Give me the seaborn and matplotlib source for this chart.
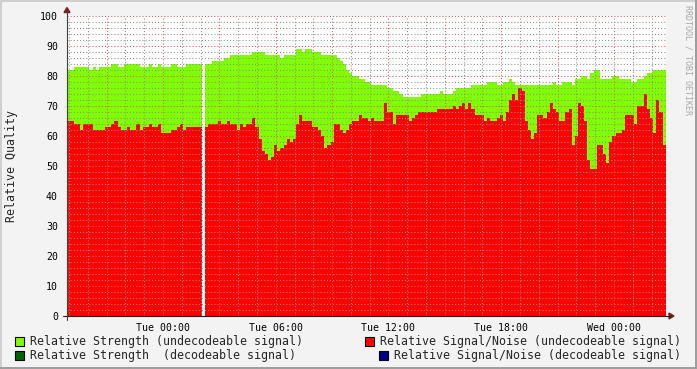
import numpy as np
import pandas as pd
import matplotlib
matplotlib.use("Agg")
import matplotlib.pyplot as plt
import seaborn as sns
from matplotlib.patches import Rectangle, Polygon
from matplotlib.lines import Line2D
from matplotlib.ticker import MultipleLocator, FuncFormatter

# ---------------- data ----------------
# samples every 10 minutes, first sample starts Mon 18:45 (hours relative to Tue 00:00)
start_hours = -5.25
step_hours = 1 / 6
nan = np.nan

strength = [
    82, 82, 82, 83, 83, 83, 83, 83, 82, 83,
    82, 83, 83, 83, 83, 84, 84, 83, 83, 84,
    84, 84, 84, 84, 83, 83, 83, 84, 83, 83,
    84, 83, 83, 83, 84, 84, 83, 83, 83, 84,
    84, 84, 84, 84, nan, 84, 84, 85, 85, 85,
    85, 86, 86, 87, 87, 87, 87, 87, 87, 87,
    88, 88, 88, 88, 87, 87, 87, 87, 87, 86,
    87, 87, 87, 87, 89, 89, 88, 89, 89, 88,
    88, 88, 87, 87, 87, 87, 87, 86, 85, 84,
    82, 81, 80, 80, 79, 79, 78, 78, 77, 77,
    77, 77, 77, 76, 76, 75, 75, 74, 73, 73,
    73, 73, 73, 73, 74, 74, 74, 74, 74, 74,
    75, 74, 74, 74, 75, 76, 76, 76, 76, 76,
    77, 77, 77, 77, 77, 78, 78, 78, 77, 77,
    78, 78, 79, 78, 77, 77, 77, 77, 77, 77,
    77, 77, 77, 77, 77, 77, 78, 77, 77, 78,
    78, 78, 77, 79, 79, 80, 80, 79, 81, 82,
    82, 79, 79, 79, 79, 80, 80, 79, 79, 79,
    79, 78, 78, 79, 79, 80, 81, 81, 82, 82,
    82, 82,
]

snr = [
    65, 65, 65, 64, 64, 62, 64, 64, 64, 62,
    62, 62, 62, 63, 63, 64, 65, 63, 62, 62,
    63, 62, 62, 64, 62, 63, 63, 64, 63, 63,
    64, 61, 61, 61, 62, 62, 63, 64, 62, 63,
    63, 63, 63, 63, nan, 63, 64, 64, 64, 65,
    64, 64, 65, 64, 64, 62, 64, 63, 64, 64,
    66, 63, 59, 55, 54, 52, 53, 57, 55, 56,
    57, 59, 58, 59, 64, 67, 65, 65, 65, 63,
    63, 62, 60, 56, 57, 58, 64, 64, 62, 61,
    62, 64, 65, 65, 67, 66, 66, 65, 66, 65,
    65, 65, 71, 68, 68, 64, 67, 67, 67, 67,
    65, 66, 67, 68, 68, 68, 68, 68, 68, 69,
    69, 69, 69, 69, 70, 69, 70, 71, 69, 71,
    69, 67, 67, 67, 65, 66, 65, 65, 66, 67,
    65, 68, 72, 74, 72, 76, 75, 65, 62, 59,
    61, 67, 67, 66, 68, 71, 69, 68, 65, 65,
    68, 69, 57, 60, 71, 70, 65, 52, 49, 49,
    57, 57, 54, 51, 58, 60, 61, 61, 62, 67,
    67, 67, 64, 70, 70, 74, 69, 66, 61, 72,
    68, 57,
]

series_labels = [
    "Relative Strength (undecodeable signal)",
    "Relative Signal/Noise (undecodeable signal)",
    "Relative Strength  (decodeable signal)",
    "Relative Signal/Noise (decodeable signal)",
]
series_colors = ["#80FF00", "#FF0000", "#006400", "#00008B"]
y_label = "Relative Quality"
watermark = "RRDTOOL / TOBI OETIKER"
day_names = {-1: "Mon", 0: "Tue", 1: "Wed"}

# ---------------- figure ----------------
W, H = 697, 369
sns.set_style("white")
plt.rcParams["font.family"] = ["DejaVu Sans Mono"]

fig = plt.figure(figsize=(W / 100, H / 100), dpi=100, facecolor="#F3F3F3")


def fx(px):
    return px / W


def fy(py):
    return 1 - py / H


left, right, top, bottom = 67, 666, 16, 316
ax = fig.add_axes([fx(left), fy(bottom), (right - left) / W, (bottom - top) / H])
ax.set_facecolor("white")

n = len(snr)
df = pd.DataFrame({
    "hours": start_hours + step_hours * (np.arange(n) + 0.5),
    "strength": strength,
    "snr": snr,
})
edges = [float(e) for e in start_hours + step_hours * np.arange(n + 1)]

d1 = df.dropna(subset=["strength"])
d2 = df.dropna(subset=["snr"])
sns.histplot(data=d1, x="hours", weights="strength", bins=edges, element="step",
             fill=True, color=series_colors[0], alpha=1, linewidth=0, ax=ax)
sns.histplot(data=d2, x="hours", weights="snr", bins=edges, element="step",
             fill=True, color=series_colors[1], alpha=1, linewidth=0, ax=ax)

ax.set_xlim((left - 163) / 18.79, (right - 163) / 18.79)
ax.set_ylim(0, 100)
ax.set_xlabel("")
ax.set_ylabel("")

ax.xaxis.set_major_locator(MultipleLocator(3))
ax.xaxis.set_minor_locator(MultipleLocator(1))
ax.yaxis.set_major_locator(MultipleLocator(10))
ax.yaxis.set_minor_locator(MultipleLocator(2))


def xfmt(h, pos):
    hi = int(round(h))
    if hi % 6 != 0:
        return ""
    day = hi // 24
    return f"{day_names.get(day, '')} {hi % 24:02d}:00"


ax.xaxis.set_major_formatter(FuncFormatter(xfmt))
ax.yaxis.set_major_formatter(FuncFormatter(lambda v, p: f"{int(v)}"))

for s in ax.spines.values():
    s.set_visible(False)

ax.set_axisbelow(False)
ax.grid(which="major", color=(0.87, 0.37, 0.37, 0.5), linestyle=(0, (1, 2)), linewidth=0.75)
ax.grid(which="minor", color=(0.56, 0.56, 0.56, 0.32), linestyle=(0, (1, 2)), linewidth=0.75)

ax.tick_params(axis="both", which="major", length=2.5, width=0.7, color="#DE5F5F",
               labelsize=7.1, labelcolor="black")
ax.tick_params(axis="both", which="minor", length=2.5, width=0.7, color="#A0A0A0")
ax.tick_params(axis="y", which="major", pad=4)
ax.tick_params(axis="x", which="major", pad=2.5)

# axes lines and arrows (rrdtool style)
fig.add_artist(Line2D([fx(63), fx(671)], [fy(316), fy(316)], color="#202020", lw=0.8))
fig.add_artist(Line2D([fx(67), fx(67)], [fy(320), fy(12)], color="#404040", lw=0.8))
fig.add_artist(Polygon([(fx(64), fy(12.5)), (fx(70), fy(12.5)), (fx(67), fy(7.5))],
                       closed=True, color="#7F1F1F", transform=fig.transFigure))
fig.add_artist(Polygon([(fx(669), fy(313)), (fx(669), fy(319)), (fx(674), fy(316))],
                       closed=True, color="#7F1F1F", transform=fig.transFigure))

# y label
fig.text(fx(12), fy(166), y_label, rotation=90, ha="center", va="center", fontsize=8.4)

# watermark
fig.text(fx(688), fy(5), watermark, rotation=-90, ha="center", va="top",
         fontsize=6, color="#A8A8A8")

# legend (rrdtool layout)
legend_items = [
    (15, 337, 30, 341.5, 0),
    (365, 337, 380, 341.5, 1),
    (15, 351, 30, 355.5, 2),
    (379, 351, 394, 355.5, 3),
]
for sx, sy, tx, ty, k in legend_items:
    fig.add_artist(Rectangle((fx(sx), fy(sy + 9)), 9 / W, 9 / H, facecolor=series_colors[k],
                             edgecolor="black", lw=0.8, transform=fig.transFigure))
    fig.text(fx(tx), fy(ty), series_labels[k], ha="left", va="center", fontsize=8.36)

# 3D frame
fig.add_artist(Rectangle((0, fy(2)), 1, 2 / H, facecolor="#CFCFCF", edgecolor="none",
                         transform=fig.transFigure))
fig.add_artist(Rectangle((0, 0), 2 / W, 1, facecolor="#CFCFCF", edgecolor="none",
                         transform=fig.transFigure))
fig.add_artist(Rectangle((0, 0), 1, 2.5 / H, facecolor="#9E9E9E", edgecolor="none",
                         transform=fig.transFigure))
fig.add_artist(Rectangle((1 - 2.5 / W, 0), 2.5 / W, 1, facecolor="#9E9E9E", edgecolor="none",
                         transform=fig.transFigure))

fig.savefig("out.png", dpi=100, facecolor=fig.get_facecolor())
